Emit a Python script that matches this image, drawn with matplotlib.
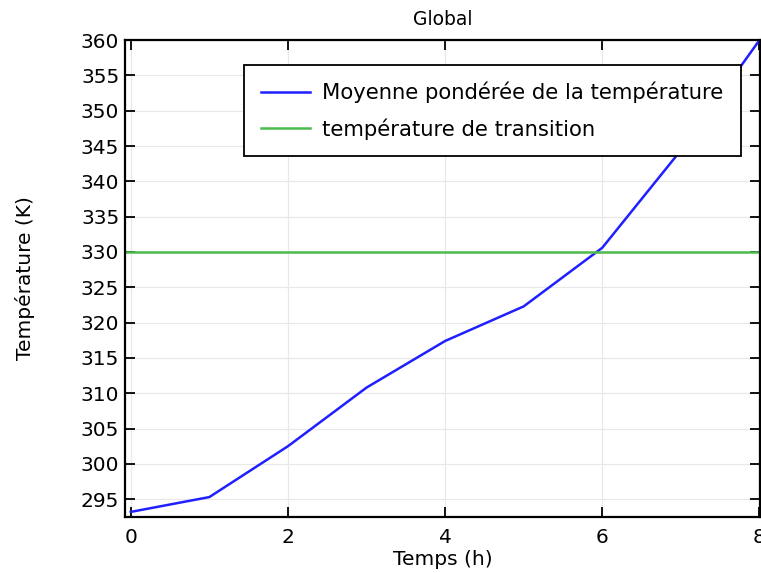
import matplotlib
matplotlib.use("Agg")
import matplotlib.pyplot as plt

# données
temps_h = [0, 1, 2, 3, 4, 5, 6, 7, 8]
temp_moy = [293.2, 295.3, 302.5, 310.8, 317.4, 322.3, 330.6, 344.4, 360.0]
temp_transition = 330.0

BLUE = "#2020ff"
GREEN = "#4cbb4c"

plt.rcParams["font.family"] = ["DejaVu Sans"]

fig = plt.figure(figsize=(7.61, 5.73), dpi=100)
ax = fig.add_axes([0.164, 0.098, 0.835, 0.832])

ax.plot(temps_h, temp_moy, color=BLUE, linewidth=1.8,
        label="Moyenne pondérée de la température")
ax.axhline(temp_transition, color=GREEN, linewidth=1.8,
           label="température de transition")

ax.set_xlim(-0.076, 8.01)
ax.set_ylim(292.5, 360)
ax.set_xticks([0, 2, 4, 6, 8])
ax.set_yticks(range(295, 361, 5))
ax.grid(True, color="#e8e8e8", linewidth=0.9)
ax.set_axisbelow(True)

ax.tick_params(direction="in", length=7, width=1.3, top=True, right=True,
               labelsize=14.5, colors="black")
ax.tick_params(axis="x", pad=8)
ax.tick_params(axis="y", pad=4)
for s in ax.spines.values():
    s.set_linewidth(1.6)
    s.set_color("black")

ax.set_title("Global", fontsize=13.5, pad=11)
ax.set_xlabel("Temps (h)", fontsize=14.5, labelpad=2)
ax.set_ylabel("Température (K)", fontsize=14.5, labelpad=33)

leg = ax.legend(loc="upper right", bbox_to_anchor=(0.969, 0.948),
                borderaxespad=0, fontsize=15.2, fancybox=False, framealpha=1,
                edgecolor="black", handlelength=2.3, handletextpad=0.6,
                borderpad=0.8, labelspacing=0.7)
leg.get_frame().set_linewidth(1.3)

fig.savefig("out.png", dpi=100, facecolor="white")
